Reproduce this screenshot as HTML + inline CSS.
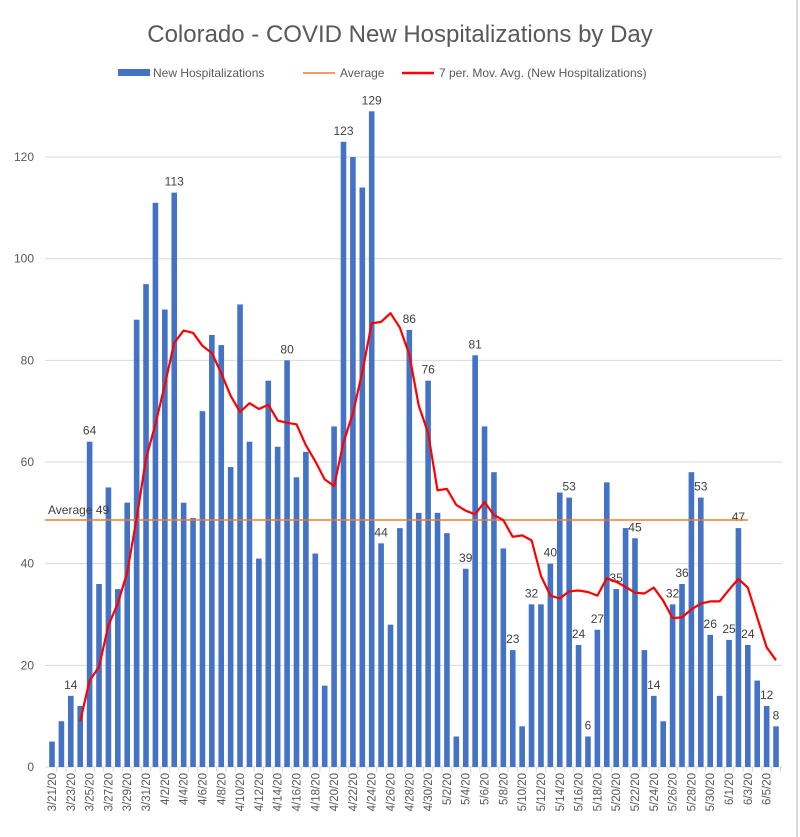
<!DOCTYPE html>
<html><head><meta charset="utf-8"><style>
body{margin:0;background:#fff;}
svg{display:block;font-family:"Liberation Sans",sans-serif;}
</style></head><body>
<svg id="c" width="800" height="837" xmlns="http://www.w3.org/2000/svg"></svg>
<script>
const d=[5,9,14,12,64,36,55,35,52,88,95,111,90,113,52,49,70,85,83,59,91,64,41,76,63,80,57,62,42,16,67,123,120,114,129,44,28,47,86,50,76,50,46,6,39,81,67,58,43,23,8,32,32,40,54,53,24,6,27,56,35,47,45,23,14,9,32,36,58,53,26,14,25,47,24,17,12,8];
const lab=new Set([2,4,13,25,31,34,35,38,40,44,45,49,51,53,55,56,57,58,60,62,64,66,67,69,70,72,73,74,76,77]);
const X=i=>52+i*9.403, Y=v=>767-v*5.083;
let s='';
s+='<rect x="0" y="0" width="800" height="837" fill="#fff"/>';
s+='<line x1="797" y1="0" x2="797" y2="837" stroke="#d9d9d9" stroke-width="2"/>';
s+='<text x="400" y="42" text-anchor="middle" font-size="24" fill="#595959">Colorado - COVID New Hospitalizations by Day</text>';
s+='<rect x="118" y="69" width="32" height="7" fill="#4472c4"/><text x="153" y="77" font-size="12" fill="#595959">New Hospitalizations</text>';
s+='<line x1="303" y1="73" x2="335" y2="73" stroke="#ed7d31" stroke-width="1.5"/><text x="340" y="77" font-size="12" fill="#595959">Average</text>';
s+='<line x1="402" y1="73" x2="434" y2="73" stroke="#ff0000" stroke-width="2.5"/><text x="439" y="77" font-size="12" fill="#595959">7 per. Mov. Avg. (New Hospitalizations)</text>';
for(let v=0;v<=120;v+=20){const y=Y(v);
 if(v>0)s+=`<line x1="45" y1="${y}" x2="782" y2="${y}" stroke="#d9d9d9" stroke-width="1"/>`;
 s+=`<text x="34" y="${y+4}" text-anchor="end" font-size="12" fill="#595959">${v}</text>`;}
s+='<line x1="45" y1="767" x2="782" y2="767" stroke="#d9d9d9"/>';
d.forEach((v,i)=>{s+=`<rect x="${X(i)-2.8}" y="${Y(v)}" width="5.6" height="${v*5.083}" fill="#4472c4"/>`;
 if(lab.has(i))s+=`<text x="${X(i)}" y="${Y(v)-7}" text-anchor="middle" font-size="12" fill="#404040">${v}</text>`;});
const start=new Date(2020,2,21);
for(let i=0;i<78;i++){const x=X(i)+4.7;s+=`<line x1="${x}" y1="767" x2="${x}" y2="772" stroke="#d9d9d9"/>`;}
for(let i=0;i<78;i+=2){const dt=new Date(start.getTime()+i*86400000);const t=(dt.getMonth()+1)+'/'+dt.getDate()+'/20';
 s+=`<text transform="translate(${X(i)+4},773) rotate(-90)" text-anchor="end" font-size="11.5" fill="#595959">${t}</text>`;}
s+=`<line x1="45" y1="${Y(48.6)}" x2="748" y2="${Y(48.6)}" stroke="#ed7d31" stroke-width="1.5"/>`;
s+=`<text x="48" y="${Y(48.6)-6}" font-size="12" fill="#404040">Average 49</text>`;
let pts=[[3,9],[4,17],[5,19.7]];
for(let i=6;i<78;i++){let a=0;for(let k=i-6;k<=i;k++)a+=d[k];pts.push([i,a/7]);}
s+=`<polyline fill="none" stroke="#ff0000" stroke-width="2.2" stroke-linejoin="round" points="${pts.map(p=>X(p[0]).toFixed(1)+','+Y(p[1]).toFixed(1)).join(' ')}"/>`;
document.getElementById('c').innerHTML=s;
</script>
</body></html>
